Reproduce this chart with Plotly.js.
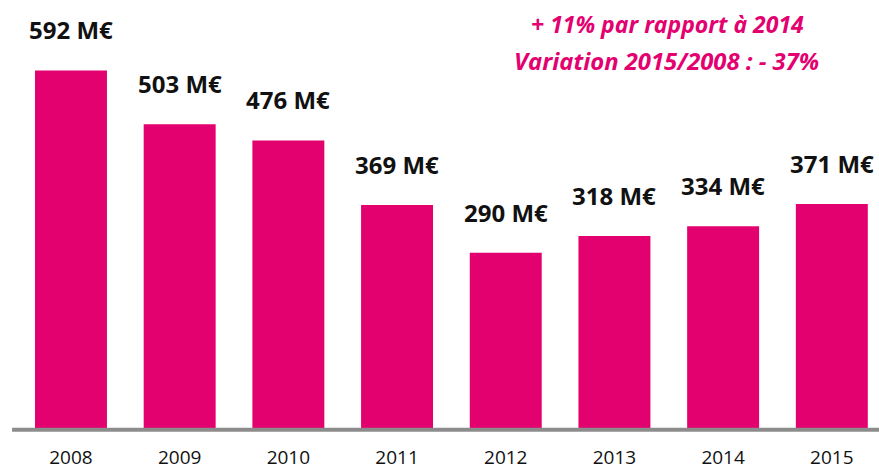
<!DOCTYPE html>
<html><head><meta charset="utf-8">
<script src="https://cdn.plot.ly/plotly-3.0.1.min.js"></script>
<style>html,body{margin:0;padding:0;background:#fff;}#chart{width:879px;height:473px;}</style>
</head><body><div id="chart"></div>
<script>
const years = ['2008','2009','2010','2011','2012','2013','2014','2015'];
const values = [592, 503, 476, 369, 290, 318, 334, 371];
const labels = ['592 M€','503 M€','476 M€','369 M€','290 M€','318 M€','334 M€','371 M€'];
const notes = ['+ 11% par rapport à 2014', 'Variation 2015/2008 : - 37%'];

const pink = '#E3006F';
const font = '"Open Sans", "DejaVu Sans", sans-serif';

const annotations = years.map((y, i) => ({
  x: i, y: values[i], xref: 'x', yref: 'y',
  text: '<b>' + labels[i] + '</b>', showarrow: false,
  yanchor: 'bottom', xanchor: 'center', yshift: 22,
  font: {family: font, size: 24, color: '#111'}
}));
annotations.push({
  xref: 'paper', yref: 'paper', x: 0.759, y: 0.945, xanchor: 'center', yanchor: 'middle',
  text: '<b><i>' + notes[0] + '</i></b>', showarrow: false,
  font: {family: font, size: 23, color: pink}
});
annotations.push({
  xref: 'paper', yref: 'paper', x: 0.758, y: 0.858, xanchor: 'center', yanchor: 'middle',
  text: '<b><i>' + notes[1] + '</i></b>', showarrow: false,
  font: {family: font, size: 23.8, color: pink}
});

const data = [{
  type: 'bar', x: years.map((_, i) => i), y: values,
  marker: {color: pink, line: {width: 0}},
  width: 0.662, hoverinfo: 'none'
}];

const layout = {
  width: 879, height: 473,
  margin: {l: 0, r: 0, t: 0, b: 45, pad: 0},
  paper_bgcolor: '#fff', plot_bgcolor: '#fff',
  showlegend: false,
  xaxis: {
    range: [-0.653, 7.434], tickmode: 'array',
    tickvals: years.map((_, i) => i), ticktext: years,
    ticks: 'outside', ticklen: 12, tickcolor: 'rgba(0,0,0,0)',
    showgrid: false, zeroline: false, showline: false,
    tickfont: {family: font, size: 19, color: '#111'}
  },
  yaxis: {
    range: [0, 708.6], visible: false, showgrid: false, zeroline: false
  },
  shapes: [{
    type: 'line', xref: 'paper', yref: 'paper',
    x0: 0.0137, x1: 1, y0: -0.004, y1: -0.004,
    line: {color: '#8c8c8c', width: 4}
  }],
  annotations: annotations
};

Plotly.newPlot('chart', data, layout, {displayModeBar: false, staticPlot: true});
</script>
</body></html>
